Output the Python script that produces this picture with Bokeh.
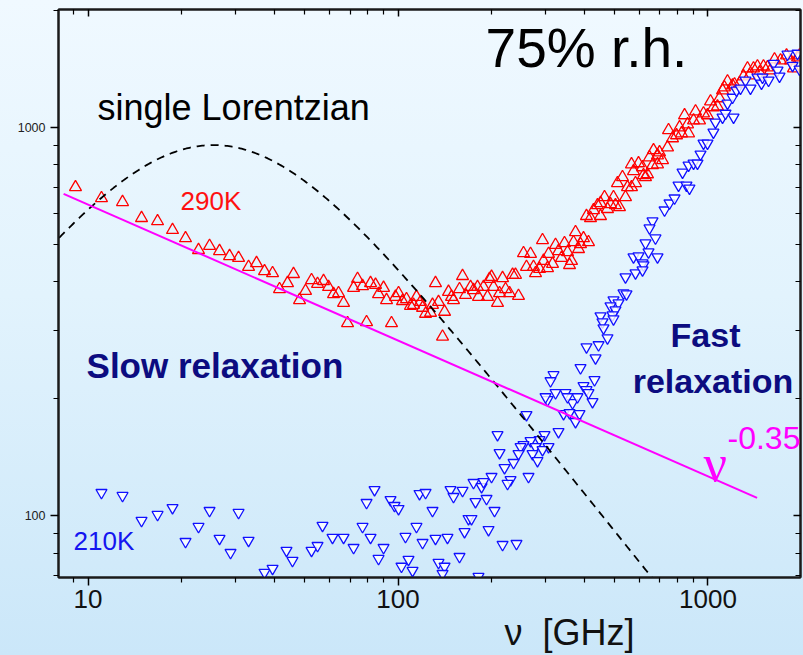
import numpy as np
from bokeh.plotting import figure
from bokeh.models import LogAxis, FixedTicker, Label, Range1d, PrintfTickFormatter
from bokeh.embed import file_html
from bokeh.resources import INLINE

# ---- measured dielectric loss, 75% relative humidity ----
# 290 K  (frequency in GHz, loss)
nu_290 = [9.11, 11.05, 12.92, 14.88, 16.76, 18.73, 20.63, 22.72, 24.66, 26.56,
          28.61, 30.59, 32.95, 34.96, 37.10, 39.38, 41.47, 44.00, 46.01, 48.12,
          50.31, 52.60, 55.00, 57.51, 59.69, 61.95, 64.29, 66.73, 68.74, 71.88,
          74.04, 76.84, 79.16, 81.54, 84.62, 86.53, 89.81, 91.83, 95.28, 98.15,
          100.4, 103.4, 106.5, 109.7, 112.2, 114.7, 118.2, 120.0, 122.7, 127.3,
          129.2, 132.1, 135.1, 139.2, 141.3, 145.5, 148.8, 151.0, 157.9, 161.5,
          165.1, 171.4, 175.2, 180.5, 181.8, 188.7, 194.4, 197.3, 200.3, 203.3,
          209.4, 212.6, 217.4, 222.3, 229.0, 234.2, 239.3, 244.7, 254.0, 259.7,
          267.6, 273.6, 277.7, 286.1, 292.5, 294.7, 303.6, 305.9, 315.1, 322.2,
          329.4, 336.8, 344.4, 352.2, 357.5, 362.8, 368.3, 373.8, 382.2, 387.9,
          396.6, 405.5, 411.6, 417.8, 427.2, 440.1, 450.0, 450.0, 463.6, 474.0,
          484.7, 495.6, 502.9, 510.5, 518.1, 529.8, 541.8, 549.9, 566.5, 566.5,
          575.0, 583.6, 596.8, 614.8, 619.4, 628.6, 638.0, 647.6, 662.2, 667.2,
          687.3, 687.3, 697.6, 713.4, 740.4, 745.9, 768.4, 791.6, 809.5, 821.6,
          840.2, 859.1, 865.5, 898.2, 911.7, 939.1, 967.2, 996.3, 1019, 1041,
          1073, 1089, 1114, 1130, 1156, 1200, 1218, 1264, 1302, 1341,
          1361, 1402, 1444, 1466, 1510, 1556, 1591, 1639, 1714, 1792,
          1846, 1887, 1945, 1974]
eps_290 = [701, 657, 642, 584, 573, 544, 518, 483, 495, 480,
           466, 461, 437, 447, 426, 421, 383, 397, 419, 359,
           379, 404, 395, 402, 388, 372, 374, 353, 313, 386,
           407, 390, 315, 397, 393, 372, 386, 359, 313, 366,
           374, 357, 361, 347, 349, 366, 355, 343, 331, 333,
           349, 397, 355, 289, 335, 377, 366, 359, 383, 414,
           370, 388, 381, 388, 366, 388, 366, 407, 412, 388,
           353, 374, 409, 383, 374, 417, 417, 368, 474, 437,
           472, 437, 421, 432, 512, 453, 434, 472, 445, 498,
           480, 461, 503, 477, 442, 453, 506, 537, 486, 500,
           518, 591, 506, 584, 612, 630, 591, 638, 661, 616,
           634, 661, 630, 718, 623, 744, 661, 701, 701, 803,
           771, 718, 808, 789, 753, 744, 757, 837, 799, 873,
           803, 847, 862, 823, 888, 983, 937, 954, 1000, 965,
           1074, 1018, 965, 1042, 1099, 1042, 1086, 1074, 1166, 1126,
           1132, 1188, 1245, 1267, 1313, 1282, 1290, 1298, 1353, 1418,
           1361, 1418, 1435, 1385, 1435, 1427, 1402, 1496, 1487, 1532,
           1487, 1418, 1514, 1532]

# 210 K
nu_210 = [11.05, 12.92, 14.88, 16.76, 18.73, 20.63, 22.72, 24.66, 26.56, 28.82,
          30.59, 32.95, 37.10, 39.38, 43.68, 45.66, 52.60, 55.00, 57.07, 61.47,
          66.73, 71.88, 76.84, 79.16, 84.0, 81.54, 89.81, 86.53, 94.59, 97.44,
          100.4, 114.7, 105.7, 102.6, 108.1, 111.4, 117.3, 122.7, 129.2, 120.0,
          132.1, 144.4, 135.1, 141.3, 139.2, 147.7, 151.0, 161.5, 157.9, 163.9,
          168.8, 172.6, 175.2, 177.8, 186.0, 188.7, 193.0, 195.9, 181.8, 204.8,
          217.4, 241.1, 303.6, 259.7, 342.0, 357.5, 385.0, 373.8, 365.6, 424.1,
          209.4, 329.4, 296.9, 286.1, 267.6, 277.7, 254.0, 248.5, 305.9, 292.5,
          212.6, 244.7, 271.6, 281.8, 235.9, 220.6, 200.3, 230.7, 225.6, 263.6,
          541.8, 533.8, 545.8, 495.6, 514.3, 484.7, 502.9, 491.9, 450.0, 456.7,
          495.6, 460.1, 474.0, 443.5, 405.5, 433.7, 387.9, 317.4, 310.4, 430.4,
          396.6, 405.5, 411.6, 322.2, 347.0, 299.1, 379.3, 352.2, 662.2, 647.6,
          677.0, 628.6, 642.8, 687.3, 575.0, 596.8, 614.8, 619.4, 583.6, 614.8,
          724.2, 751.3, 779.9, 803.4, 852.2, 871.4, 827.7, 865.5, 898.2, 924.9,
          946, 967.2, 996.3, 1041, 1057, 1114, 1139, 1209, 1156, 1200,
          1236, 1273, 1321, 1371, 1444, 1488, 1499, 1568, 1627, 1676,
          1701, 1805, 1874, 1945, 1974]
eps_210 = [114.6, 112.6, 97.1, 100.6, 104.8, 85.7, 93.7, 103.0, 87.3, 80.3,
           101.8, 86.3, 71.4, 73.1, 81.3, 76.6, 81.3, 83.7, 94.3, 87.8,
           87.8, 82.7, 93.7, 108.0, 116.6, 87.8, 82.7, 77.5, 109.9, 106.1,
           104.2, 93.7, 88.3, 74.0, 77.1, 72.2, 113.9, 114.6, 103.0, 85.2,
           87.3, 87.8, 75.7, 74.0, 70.9, 116.6, 111.9, 116.0, 78.4, 90.9,
           98.2, 98.2, 121.6, 108.6, 118.7, 122.3, 110.6, 92.0, 69.7, 103.0,
           84.2, 84.7, 198.7, 181.8, 182.9, 184.0, 182.9, 174.5, 195.2, 196.4,
           161.5, 164.4, 161.5, 156.8, 155.9, 150.4, 152.2, 150.4, 150.4, 147.8,
           145.2, 144.3, 144.3, 138.5, 136.9, 132.8, 126.0, 123.7, 120.9, 126.0,
           411.6, 374.3, 372.1, 359.2, 352.8, 346.6, 338.5, 328.6, 326.7, 315.3,
           321.0, 304.2, 286.8, 275.2, 271.9, 254.7, 240.2, 230.4, 222.3, 223.7,
           215.9, 210.8, 207.1, 207.1, 207.1, 202.2, 202.2, 202.2, 573.4, 550.1,
           518.4, 503.3, 477.2, 463.3, 463.3, 466.0, 447.1, 441.9, 421.4, 428.9,
           611.8, 637.8, 656.9, 709.4, 709.4, 696.9, 766.2, 798.6, 808.2, 808.2,
           852.4, 909.6, 909.6, 970.8, 1030, 1061, 1086, 1061, 1153, 1194,
           1245, 1260, 1321, 1260, 1345, 1298, 1345, 1321, 1460, 1402,
           1353, 1541, 1443, 1550, 1410]

# ---- model curves ----
# single Lorentzian (Debye loss peak)
lor_peak = 900.0      # loss at the maximum
lor_nu0 = 25.4        # peak frequency, GHz
# power law nu^-0.35
pl_exponent = -0.35
pl_amplitude = 1416.0
pl_nu_span = [8.34, 1440.0]

# axis ticks
x_major = [10, 100, 1000]
y_major = [100, 1000]
x_minor = [m * d for d in (1, 10, 100, 1000) for m in range(2, 10)]
y_minor = [m * d for d in (10, 100, 1000) for m in range(2, 10)]

FONT = "Liberation Sans"
SERIF = "Liberation Serif"
NBSP = "\u00a0"

p = figure(width=803, height=655,
           x_axis_type="log", y_axis_type="log",
           x_range=Range1d(8.03, 1988), y_range=Range1d(69.3, 2011),
           output_backend="svg", toolbar_location=None,
           min_border_left=58, min_border_right=3,
           min_border_top=9, min_border_bottom=77)

# light-blue vertical gradient behind the transparent canvas
p.background_fill_color = None
p.border_fill_color = None
p.styles = {"background": "linear-gradient(to bottom, #f0f9ff 0%, #e2f3fd 45%, #cbe7f9 100%)"}
p.outline_line_color = "#1a1a1a"
p.outline_line_width = 2
p.xgrid.visible = False
p.ygrid.visible = False

# bottom axis; the title is shifted right of centre with leading no-break spaces
xa = p.xaxis[0]
xa.ticker = FixedTicker(ticks=x_major, minor_ticks=x_minor)
xa.formatter = PrintfTickFormatter(format="%d")
xa.major_label_text_font = FONT
xa.major_label_text_font_size = "26px"
xa.major_label_text_color = "#111111"
xa.major_label_standoff = 4
xa.axis_line_width = 2
xa.axis_line_color = "#1a1a1a"
xa.major_tick_in = 0
xa.major_tick_out = 8
xa.minor_tick_in = 0
xa.minor_tick_out = 5
xa.major_tick_line_width = 1.5
xa.minor_tick_line_width = 1.2
xa.axis_label = NBSP * 28 + "ν" + NBSP * 2 + "[GHz]"
xa.axis_label_text_font = FONT
xa.axis_label_text_font_size = "36px"
xa.axis_label_text_font_style = "normal"
xa.axis_label_text_color = "#111111"
xa.axis_label_standoff = 1

# left axis
ya = p.yaxis[0]
ya.ticker = FixedTicker(ticks=y_major, minor_ticks=y_minor)
ya.formatter = PrintfTickFormatter(format="%d")
ya.major_label_text_font = FONT
ya.major_label_text_font_size = "12.5px"
ya.major_label_text_color = "#222222"
ya.major_label_standoff = 5
ya.axis_line_width = 2
ya.axis_line_color = "#1a1a1a"
ya.major_tick_in = 0
ya.major_tick_out = 8
ya.minor_tick_in = 0
ya.minor_tick_out = 5
ya.major_tick_line_width = 1.5
ya.minor_tick_line_width = 1.2

# mirrored ticks on top and right, labels kept invisible
for loc, ticks, minor in (("above", x_major, x_minor), ("right", y_major, y_minor)):
    ax = LogAxis(ticker=FixedTicker(ticks=ticks, minor_ticks=minor),
                 formatter=PrintfTickFormatter(format="%d"),
                 major_label_text_font_size="1px", major_label_text_alpha=0,
                 major_label_standoff=0,
                 major_tick_in=7, major_tick_out=0,
                 minor_tick_in=5, minor_tick_out=0,
                 major_tick_line_width=1.5, minor_tick_line_width=1.2,
                 axis_line_width=2, axis_line_color="#1a1a1a")
    p.add_layout(ax, loc)

# data
p.scatter(nu_290, eps_290, marker="triangle", size=12,
          line_color="#ff0000", line_width=1.3, fill_color=None)
p.scatter(nu_210, eps_210, marker="inverted_triangle", size=11,
          line_color="#1010ff", line_width=1.3, fill_color="white", fill_alpha=0.8)

# single Lorentzian
nu_fit = np.logspace(np.log10(7.5), np.log10(800), 400)
r = nu_fit / lor_nu0
lor = 2 * lor_peak * r / (1 + r ** 2)
p.line(nu_fit, lor, line_color="black", line_width=1.8, line_dash="8 6")

# power law
nu_pl = np.array(pl_nu_span)
p.line(nu_pl, pl_amplitude * nu_pl ** pl_exponent, line_color="#ff00ff", line_width=2)

def add_text(x, y, text, size, color="black", font=FONT, style="normal", align="left"):
    p.add_layout(Label(x=x, y=y, text=text, text_font=font, text_font_size=size,
                       text_color=color, text_font_style=style, text_align=align,
                       text_baseline="alphabetic"))

add_text(191.6, 1605, "75% r.h.", "55px")
add_text(10.73, 1123, "single Lorentzian", "36px")
add_text(19.88, 646, "290K", "26px", color="#ff1010")
add_text(8.98, 86.3, "210K", "26px", color="#1414f0")
add_text(9.89, 243, "Slow relaxation", "35px", color="#0c0c80", style="bold")
add_text(982, 292, "Fast", "34px", color="#0c0c80", style="bold", align="center")
add_text(1038, 222, "relaxation", "34px", color="#0c0c80", style="bold", align="center")
add_text(967, 136, "ν", "52px", color="#ff00ff", font=SERIF)
add_text(1156, 158.6, "-0.35", "32px", color="#ff00ff")

open("out.html", "w").write(file_html(p, INLINE))
